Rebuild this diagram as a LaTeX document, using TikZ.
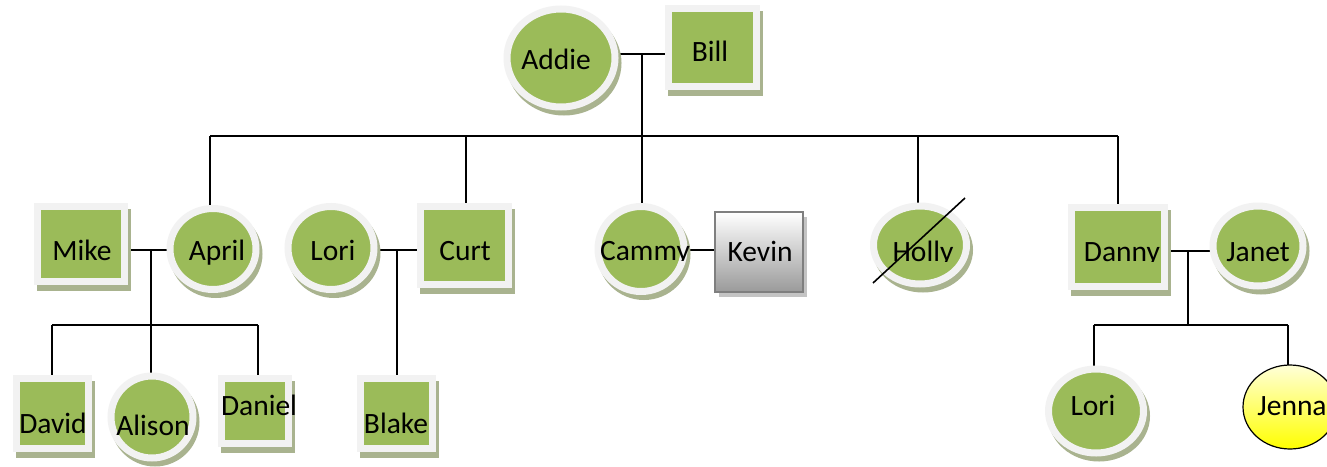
\documentclass[tikz,border=0pt]{standalone}
\usepackage{fontspec}
\setmainfont{Carlito}
\usetikzlibrary{shapes.geometric,backgrounds}
\definecolor{gr}{HTML}{9BBB59}
\definecolor{ringc}{HTML}{F2F2F2}
\definecolor{shd}{HTML}{A9B38F}
\definecolor{kevborder}{HTML}{7F7F7F}
\definecolor{kevbot}{HTML}{9A9A9A}
\definecolor{kevshd}{HTML}{C4C4C4}
\definecolor{jentop}{HTML}{FFFFD8}
\tikzset{
  base/.style={inner sep=0pt, outer sep=0pt},
  fem/.style 2 args={base, ellipse, fill=gr, draw=ringc, line width=7pt,
    minimum width=#1, minimum height=#2,
    preaction={fill=shd, draw=shd, line width=7pt, transform canvas={shift={(3pt,-5pt)}}}},
  mal/.style 2 args={base, rectangle, fill=gr, draw=ringc, line width=7pt,
    minimum width=#1, minimum height=#2,
    preaction={fill=shd, draw=shd, line width=7pt, transform canvas={shift={(3pt,-6pt)}}}},
  kev/.style={base, rectangle, draw=kevborder, line width=1.5pt, top color=white, bottom color=kevbot,
    minimum width=88pt, minimum height=80pt,
    preaction={fill=kevshd, transform canvas={shift={(4pt,-5pt)}}}},
  jen/.style={base, ellipse, draw=black, line width=1.2pt, top color=jentop, bottom color=yellow,
    minimum width=94pt, minimum height=84pt},
  lbl/.style={base, anchor=base, font=\fontsize{29.5}{33}\selectfont, text=black},
  conn/.style={line width=1.6pt, black},
}
\begin{document}
\begin{tikzpicture}[x=1pt, y=-1pt]
\useasboundingbox (0,0) rectangle (1327,466);
% people
\node[fem={108pt}{98pt}] (addie) at (561,58) {};
\node[mal={88pt}{78pt}] (bill) at (712,47) {};
\node[mal={87pt}{75pt}] (mike) at (81,244) {};
\node[fem={86pt}{81pt}] (april) at (213,249) {};
\node[fem={86pt}{83pt}] (lori) at (331,248) {};
\node[mal={88pt}{78pt}] (curt) at (464,245) {};
\node[fem={86pt}{85pt}] (cammy) at (641,249) {};
\node[kev] (kevin) at (759,252) {};
\node[fem={93pt}{78pt}] (holly) at (920,245) {};
\node[mal={93pt}{79pt}] (danny) at (1118,247) {};
\node[fem={90pt}{80pt}] (janet) at (1258,246) {};
\node[mal={72pt}{70pt}] (david) at (52,413) {};
\node[fem={82pt}{82pt}] (alison) at (152,417) {};
\node[mal={67pt}{65pt}] (daniel) at (255,411) {};
\node[mal={72pt}{70pt}] (blake) at (396,413) {};
\node[fem={95pt}{84pt}] (lori2) at (1096,411) {};
\node[jen] (jenna) at (1290,407) {};
% labels
\node[lbl] (addie-t) at (556,69) {Addie};
\node[lbl] (bill-t) at (710,61) {Bill};
\node[lbl] (mike-t) at (82,260) {Mike};
\node[lbl] (april-t) at (217,260) {April};
\node[lbl] (lori-t) at (333,260) {Lori};
\node[lbl] (curt-t) at (465,260) {Curt};
\begin{scope}
  \clip (580,200) rectangle (710,260);
  \node[lbl] (cammy-t) at (645,260) {Cammy};
\end{scope}
\node[lbl] (kevin-t) at (760,261) {Kevin};
\begin{scope}
  \clip (880,200) rectangle (965,261);
  \node[lbl] (holly-t) at (923,261) {Holly};
\end{scope}
\begin{scope}
  \clip (1070,200) rectangle (1175,261);
  \node[lbl] (danny-t) at (1122,261) {Danny};
\end{scope}
\node[lbl] (janet-t) at (1258,261) {Janet};
\node[lbl] (david-t) at (53,433) {David};
\node[lbl] (alison-t) at (153,435) {Alison};
\node[lbl] (daniel-t) at (259,415) {Daniel};
\node[lbl] (blake-t) at (396,433) {Blake};
\node[lbl] (lori2-t) at (1093,415) {Lori};
\node[lbl] (jenna-t) at (1292,415) {Jenna};
% Holly strike
\coordinate (hs1) at (873,283);
\coordinate (hs2) at (965,198);
\draw[conn] (hs1) -- (hs2);
% connectors
\begin{scope}[on background layer]
  \fill[white] (0,0) rectangle (1327,466);
  \coordinate (ab) at (642,54);
  \coordinate (bar) at (642,136);
  \coordinate (d1) at (210,136);
  \coordinate (d2) at (466,136);
  \coordinate (d4) at (918,136);
  \coordinate (d5) at (1118,136);
  \draw[conn] (ab -| addie.east) -- (ab -| bill.west);
  \draw[conn] (ab) -- (bar);
  \draw[conn] (d1) -- (d5);
  \draw[conn] (d1) -- (d1 |- april.center);
  \draw[conn] (d2) -- (d2 |- curt.center);
  \draw[conn] (bar) -- (bar |- cammy.center);
  \draw[conn] (d4) -- (d4 |- holly.center);
  \draw[conn] (d5) -- (d5 |- danny.center);
  % Mike & April
  \coordinate (ma) at (151,250);
  \coordinate (mk) at (151,325);
  \coordinate (k1) at (52,325);
  \coordinate (k3) at (258,325);
  \draw[conn] (ma -| mike.east) -- (ma -| april.west);
  \draw[conn] (ma) -- (mk);
  \draw[conn] (k1) -- (k3);
  \draw[conn] (k1) -- (k1 |- david.center);
  \draw[conn] (mk) -- (mk |- alison.center);
  \draw[conn] (k3) -- (k3 |- daniel.center);
  % Lori & Curt
  \coordinate (lc) at (397,250);
  \draw[conn] (lc -| lori.east) -- (lc -| curt.west);
  \draw[conn] (lc) -- (lc |- blake.center);
  % Cammy & Kevin
  \coordinate (ck) at (700,250);
  \draw[conn] (ck -| cammy.east) -- (ck -| kevin.west);
  % Danny & Janet
  \coordinate (dj) at (1188,251);
  \coordinate (djk) at (1188,325);
  \coordinate (j1) at (1094,325);
  \coordinate (j2) at (1288,325);
  \draw[conn] (dj -| danny.east) -- (dj -| janet.west);
  \draw[conn] (dj) -- (djk);
  \draw[conn] (j1) -- (j2);
  \draw[conn] (j1) -- (j1 |- lori2.center);
  \draw[conn] (j2) -- (j2 |- jenna.north);
\end{scope}
\end{tikzpicture}
\end{document}
